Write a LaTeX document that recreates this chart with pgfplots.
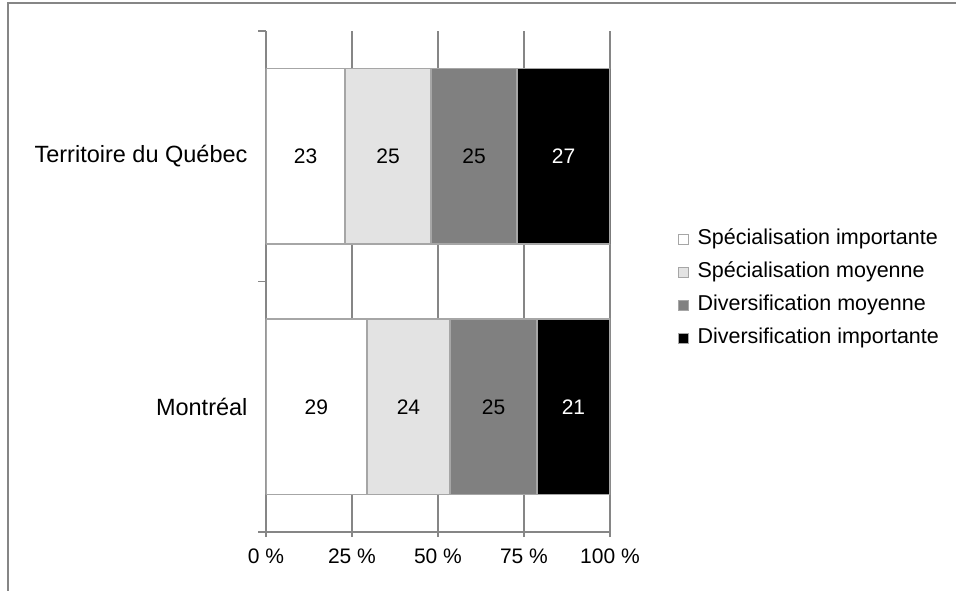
\documentclass[border=0pt]{standalone}
\usepackage{fontspec}
\setmainfont{Liberation Sans}
\usepackage{pgfplots}
\usepackage{pgfplotstable}
\pgfplotsset{compat=1.18}
\definecolor{gridc}{HTML}{868686}
\definecolor{barb}{HTML}{A6A6A6}
\definecolor{lgray}{HTML}{E3E3E3}
\definecolor{mgray}{HTML}{808080}
\pgfplotstableread{
y x lab
0 29.29 29
1 23 23
}\serA
\pgfplotstableread{
y x lab
0 24.24 24
1 25 25
}\serB
\pgfplotstableread{
y x lab
0 25.25 25
1 25 25
}\serC
\pgfplotstableread{
y x lab
0 21.21 21
1 27 27
}\serD
\begin{document}
\begin{tikzpicture}[x=1pt,y=1pt]
\path[use as bounding box] (0,0) rectangle (956,-590);
\draw[gridc, line width=2pt] (960,-3) -- (8,-3) -- (8,-594);
\begin{axis}[
  at={(266pt,-532pt)}, anchor=south west,
  scale only axis, width=344pt, height=501pt,
  xbar stacked, bar width=0.7,
  xmin=0, xmax=100, ymin=-0.5, ymax=1.5,
  axis x line*=bottom, axis y line*=left,
  axis line style={-, gridc, line width=1.5pt},
  xtick={0,25,50,75,100},
  xticklabels={0 \%, 25 \%, 50 \%, 75 \%, 100 \%},
  xmajorgrids, grid style={gridc, line width=1.5pt},
  x tick style={gridc, line width=1.5pt},
  xtick align=outside, major tick length=5pt,
  x tick label style={font=\fontsize{21}{24}\selectfont, yshift=-8pt},
  ytick={0,1},
  yticklabels={Montréal, Territoire du Québec},
  y tick style={draw=none},
  y tick label style={font=\fontsize{23.5}{28}\selectfont, xshift=-15pt},
  extra y ticks={-0.5,0.5,1.5},
  extra y tick labels={},
  extra y tick style={ytick align=outside, major tick length=8pt, y tick style={draw=gridc, line width=1.5pt}},
  point meta=explicit symbolic,
  nodes near coords,
  every node near coord/.append style={font=\fontsize{21}{24}\selectfont, anchor=center, text height=15pt, text depth=0pt},
  legend style={at={(1.198,0.486)}, anchor=west, draw=none, fill=none,
    font=\fontsize{21.5}{24}\selectfont, row sep=13pt, inner sep=0pt,
    nodes={inner sep=0pt, text height=15pt, text depth=5pt},
    /tikz/every even column/.append style={column sep=0pt}},
  legend cell align=left,
  legend image code/.code={\draw[#1, draw=barb, line width=1pt] (0pt,-5pt) rectangle (10pt,5pt); \path (18pt,0pt);},
]
\addplot[fill=white, draw=barb, line width=1.5pt] table[x=x, y=y, meta=lab] {\serA};
\addplot[fill=lgray, draw=barb, line width=1.5pt] table[x=x, y=y, meta=lab] {\serB};
\addplot[fill=mgray, draw=barb, line width=1.5pt] table[x=x, y=y, meta=lab] {\serC};
\addplot[fill=black, draw=barb, line width=1.5pt, every node near coord/.append style={text=white}] table[x=x, y=y, meta=lab] {\serD};
\legend{Spécialisation importante, Spécialisation moyenne, Diversification moyenne, Diversification importante}
\end{axis}
\end{tikzpicture}
\end{document}
